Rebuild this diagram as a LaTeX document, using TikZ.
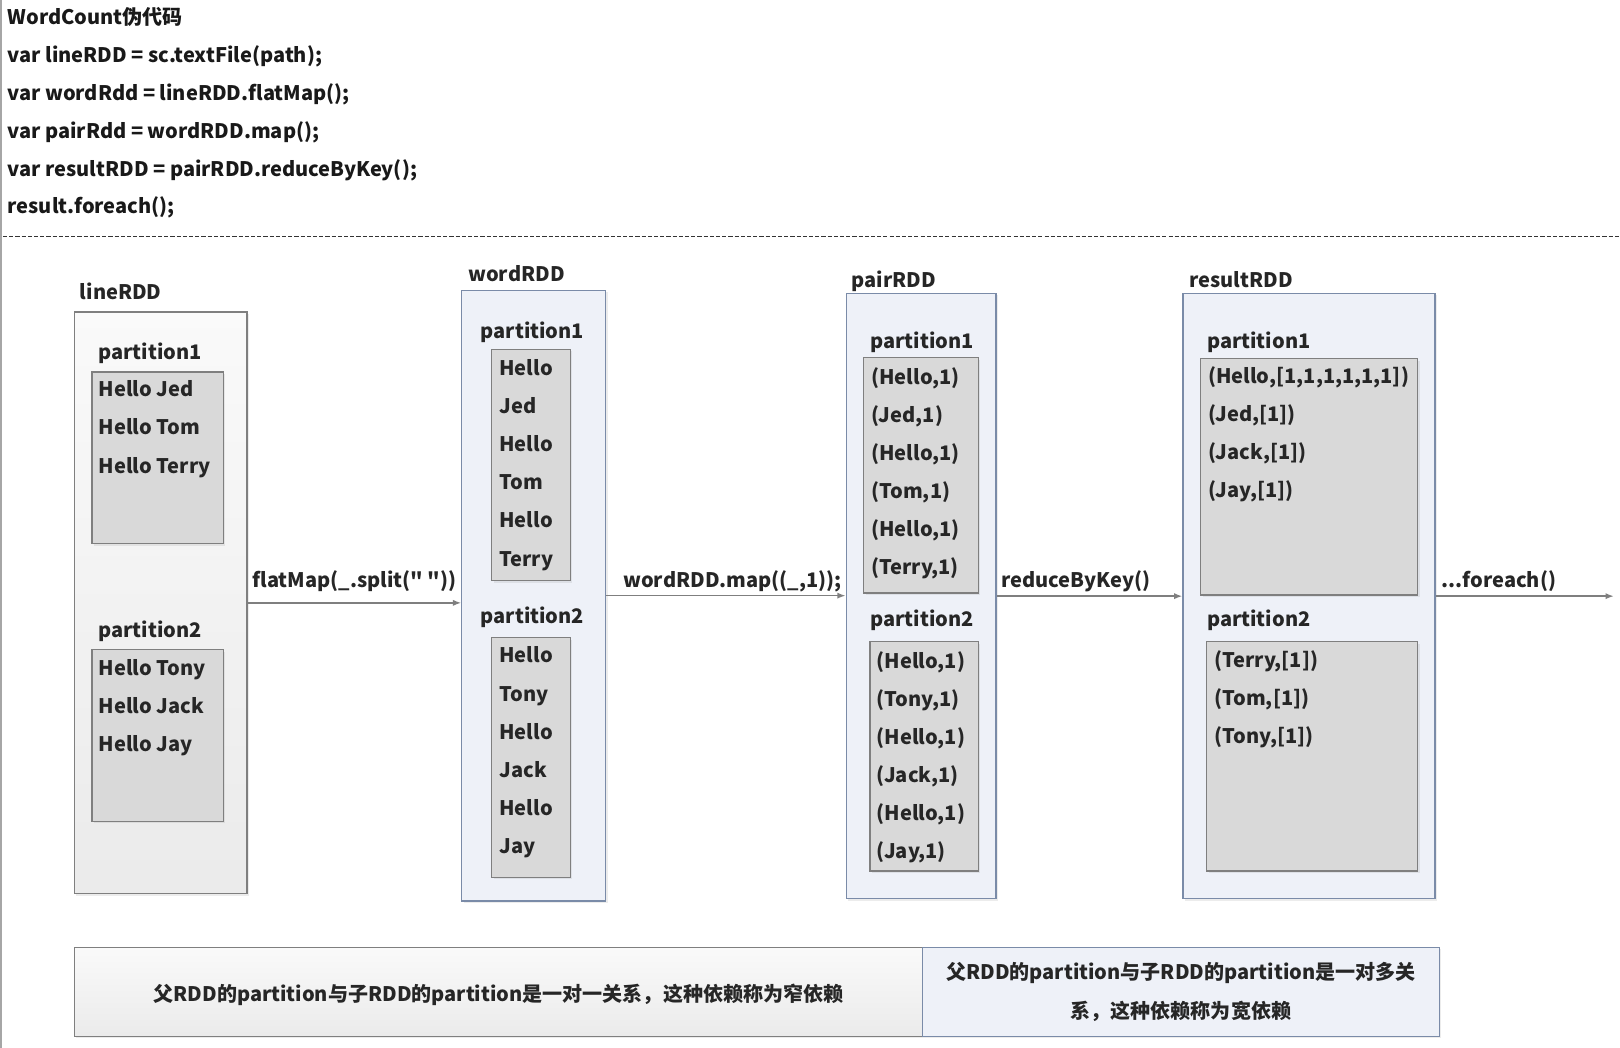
\documentclass[tikz,border=0pt]{standalone}
\usepackage{fontspec}
\newfontfamily\zh{Noto Sans CJK SC}
\usetikzlibrary{arrows,arrows.meta,fit,shadows}
\definecolor{ink}{HTML}{262626}
\definecolor{cornice}{HTML}{7A8BA8}
\definecolor{fondo}{HTML}{EEF1F8}
\definecolor{cella}{HTML}{D9D9D9}
\definecolor{bordo}{HTML}{7F7F7F}
\tikzset{
	testo/.style={font=\zh\bfseries\fontsize{9.7}{18.5}\selectfont, text=ink, inner sep=0pt, anchor=base west},
	ombra/.style={drop shadow={shadow xshift=1pt, shadow yshift=-1pt, opacity=0.15}},
	rddgrigio/.style={draw=bordo, top color=black!2, bottom color=black!8, inner sep=0pt, line width=0.6pt, ombra},
	rddblu/.style={draw=cornice, fill=fondo, inner sep=0pt, line width=0.6pt, ombra},
	part/.style={draw=bordo, fill=cella, inner sep=0pt, line width=0.6pt, ombra},
	flusso/.style={->, draw=bordo, line width=0.7pt}
}
\begin{document}
\begin{tikzpicture}[>={Latex[length=4pt,width=3pt]}, x=0.5pt, y=-0.5pt]
	\useasboundingbox (0,0) rectangle (1568,1014);
	\draw [black!35, line width=1pt] (1,0) -- (1,1014);
	%Codice
	\foreach \riga [count=\i from 0] in {
		{WordCount伪代码},
		{var lineRDD = sc.textFile(path);},
		{var wordRdd = lineRDD.flatMap();},
		{var pairRdd = wordRDD.map();},
		{var resultRDD = pairRDD.reduceByKey();},
		{result.foreach();}}
	{\node [testo, text=black!90] (code\i) at (7,{24+36.6*\i}) {\riga};}
	\draw [dashed, dash pattern=on 2pt off 1pt, black!80, line width=0.5pt] (3,228.5) -- (1568,228.5);
	%lineRDD
	\node [rddgrigio, fit={(72,302) (239,865)}] (lineRDD) {};
	\node [testo] (lineT) at (77,290) {lineRDD};
	\node [testo] (lineP1) at (95,348) {partition1};
	\node [part, fit={(89,360) (216,526)}] (lineB1) {};
	\foreach \w [count=\i from 0] in {Hello Jed,Hello Tom,Hello Terry}
	{\node [testo] (line1\i) at (95,{384+37*\i}) {\w};}
	\node [testo] (lineP2) at (95,617) {partition2};
	\node [part, fit={(89,629) (216,795)}] (lineB2) {};
	\foreach \w [count=\i from 0] in {Hello Tony,Hello Jack,Hello Jay}
	{\node [testo] (line2\i) at (95,{653.5+37*\i}) {\w};}
	%wordRDD
	\node [rddblu, fit={(447,281) (586,872)}] (wordRDD) {};
	\node [testo] (wordT) at (453,272.5) {wordRDD};
	\node [testo] (wordP1) at (465,327.5) {partition1};
	\node [part, fit={(476,338) (552,562)}] (wordB1) {};
	\foreach \w [count=\i from 0] in {Hello,Jed,Hello,Tom,Hello,Terry}
	{\node [testo] (word1\i) at (483,{363+37*\i}) {\w};}
	\node [testo] (wordP2) at (465,603.5) {partition2};
	\node [part, fit={(476,617) (552,849)}] (wordB2) {};
	\foreach \w [count=\i from 0] in {Hello,Tony,Hello,Jack,Hello,Jay}
	{\node [testo] (word2\i) at (483,{641.5+37*\i}) {\w};}
	%pairRDD
	\node [rddblu, fit={(819,284) (964,870)}] (pairRDD) {};
	\node [testo] (pairT) at (824,278.5) {pairRDD};
	\node [testo] (pairP1) at (842,337) {partition1};
	\node [part, fit={(836,346) (947,574)}] (pairB1) {};
	\foreach \w [count=\i from 0] in {{(Hello,1)},{(Jed,1)},{(Hello,1)},{(Tom,1)},{(Hello,1)},{(Terry,1)}}
	{\node [testo] (pair1\i) at (843,{372+36.8*\i}) {\w};}
	\node [testo] (pairP2) at (842,606) {partition2};
	\node [part, fit={(842,621) (947,843)}] (pairB2) {};
	\foreach \w [count=\i from 0] in {{(Hello,1)},{(Tony,1)},{(Hello,1)},{(Jack,1)},{(Hello,1)},{(Jay,1)}}
	{\node [testo] (pair2\i) at (848,{647+36.8*\i}) {\w};}
	%resultRDD
	\node [rddblu, fit={(1145,284) (1389,870)}] (resultRDD) {};
	\node [testo] (resT) at (1151,278.5) {resultRDD};
	\node [testo] (resP1) at (1168,337) {partition1};
	\node [part, fit={(1162,347) (1372,576)}] (resB1) {};
	\foreach \w [count=\i from 0] in {{(Hello,[1,1,1,1,1,1])},{(Jed,[1])},{(Jack,[1])},{(Jay,[1])}}
	{\node [testo] (res1\i) at (1169,{371+36.8*\i}) {\w};}
	\node [testo] (resP2) at (1168,606) {partition2};
	\node [part, fit={(1168,621) (1372,843)}] (resB2) {};
	\foreach \w [count=\i from 0] in {{(Terry,[1])},{(Tom,[1])},{(Tony,[1])}}
	{\node [testo] (res2\i) at (1175,{646+36.8*\i}) {\w};}
	%Frecce
	\coordinate (fine) at (1562,577);
	\draw [flusso] (lineRDD.east) -- (lineRDD.east -| wordRDD.west);
	\draw [flusso] (wordRDD.east) -- (wordRDD.east -| pairRDD.west);
	\draw [flusso] (pairRDD.east) -- (pairRDD.east -| resultRDD.west);
	\draw [flusso] (resultRDD.east) -- (resultRDD.east -| fine);
	\node [testo] (flatT) at (244,569) {flatMap(\_.split(" "))};
	\node [testo] (mapT) at (603,569) {wordRDD.map((\_,1));};
	\node [testo] (redT) at (969,569) {reduceByKey()};
	\node [testo] (forT) at (1395,569) {...foreach()};
	%Dipendenze
	\node [rddgrigio, fit={(72,917) (893,1003)}] (stretta) {};
	\node [rddblu, fit={(893,917) (1393,1003)}] (larga) {};
	\node [testo, anchor=center] (strettaT) at ([yshift=-1.5pt]stretta.center) {父RDD的partition与子RDD的partition是一对一关系，这种依赖称为窄依赖};
	\node [testo, anchor=center, align=center] (largaT) at (larga.center) {父RDD的partition与子RDD的partition是一对多关\\系，这种依赖称为宽依赖};
\end{tikzpicture}
\end{document}
